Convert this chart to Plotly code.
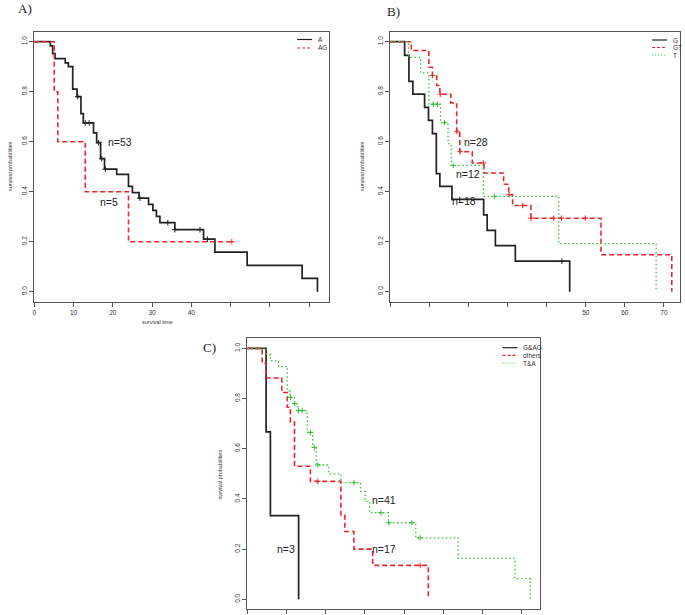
import numpy as np
import plotly.graph_objects as go

W, H = 685, 615

# ---------------- data ----------------
# panel A
a_t = [4.1, 4.7, 5.3, 7.9, 8.7, 9.8, 10.9, 11.9, 12.5, 15.1, 15.9, 16.9, 17.9, 21.0,
       24.0, 25.0, 26.7, 29.1, 30.2, 31.1, 32.0, 35.8, 43.1, 46.0, 54.2, 68.2, 72.1]
a_s = [0.983, 0.952, 0.932, 0.915, 0.900, 0.810, 0.780, 0.712, 0.675, 0.635, 0.596, 0.532,
       0.490, 0.469, 0.421, 0.396, 0.374, 0.349, 0.325, 0.301, 0.276, 0.248, 0.210, 0.158,
       0.105, 0.053, 0.0]
a_cens = [11.1, 13.0, 14.0, 16.4, 17.2, 18.1, 26.9, 34.0, 35.8, 42.2, 44.1]
ag_t = [5.1, 6.0, 13.0, 24.0, 50.3]
ag_s = [0.8, 0.6, 0.4, 0.2, 0.2]
ag_cens = [50.3]

# panel B
g_t = [3.7, 4.8, 5.8, 8.8, 9.8, 10.8, 11.8, 12.7, 15.8, 23.9, 24.8, 26.9, 32.0, 45.9]
g_s = [0.945, 0.841, 0.790, 0.737, 0.685, 0.632, 0.472, 0.421, 0.369, 0.307, 0.245,
       0.184, 0.122, 0.0]
g_cens = [17.8, 43.9]
gt_t = [5.4, 9.9, 10.8, 11.9, 12.7, 15.5, 17.0, 17.8, 21.0, 24.0, 29.0, 30.3, 31.3,
        36.0, 53.9, 72.0]
gt_s = [0.965, 0.898, 0.865, 0.825, 0.790, 0.755, 0.640, 0.560, 0.515, 0.475, 0.430,
        0.388, 0.345, 0.294, 0.148, 0.0]
gt_cens = [10.8, 12.8, 17.1, 17.9, 23.8, 30.4, 33.9, 36.0, 41.8, 43.8, 49.9]
tb_t = [4.7, 7.8, 9.9, 12.9, 14.8, 15.6, 23.8, 43.1, 68.0]
tb_s = [0.937, 0.875, 0.750, 0.676, 0.592, 0.505, 0.381, 0.192, 0.0]
tb_cens = [11.0, 12.1, 13.9, 16.1, 26.7]

# panel C
gag_t = [4.8, 5.9, 13.1]
gag_s = [0.667, 0.333, 0.0]
oth_t = [3.8, 4.8, 8.8, 10.2, 11.0, 12.05, 16.1, 23.9, 24.9, 27.2, 32.0, 46.2]
oth_s = [0.941, 0.882, 0.824, 0.765, 0.706, 0.530, 0.470, 0.336, 0.270, 0.200, 0.135, 0.0]
oth_cens = [18.0, 44.1]
ta_t = [4.9, 5.9, 8.0, 10.2, 10.9, 12.05, 12.9, 15.3, 16.7, 17.6, 20.8, 23.9, 28.9,
        30.1, 31.2, 36.0, 43.0, 53.8, 68.3, 72.2]
ta_s = [0.975, 0.951, 0.927, 0.830, 0.805, 0.780, 0.752, 0.665, 0.605, 0.535, 0.500,
        0.465, 0.430, 0.390, 0.345, 0.305, 0.245, 0.163, 0.082, 0.0]
ta_cens = [11.0, 12.1, 13.1, 14.0, 16.1, 17.1, 18.0, 27.2, 34.1, 36.1, 42.0, 44.1]

x_ticks = [0, 10, 20, 30, 40, 50, 60, 70]
a_xlabels = ["0", "10", "20", "30", "40", "", "", ""]
b_xlabels = ["", "", "", "", "", "50", "60", "70"]
y_ticks = [0, 0.2, 0.4, 0.6, 0.8, 1.0]
y_labels = ["0.0", "0.2", "0.4", "0.6", "0.8", "1.0"]

BLACK = "#222222"
RED = "#e8262a"
GREEN = "#33c033"
AXC = "#555555"
FONT = "Liberation Sans, Arial, sans-serif"


def px(x):
    return x / W


def py(y):
    return 1 - y / H


fig = go.Figure()


def km(t, s, cens, color, dash, width, xa, ya):
    x = [0] + list(t)
    y = [1.0] + list(s)
    fig.add_trace(go.Scatter(x=x, y=y, mode="lines", xaxis=xa, yaxis=ya,
                             line=dict(color=color, dash=dash, width=width, shape="hv"),
                             hoverinfo="skip", showlegend=False))
    if cens:
        idx = np.searchsorted(t, cens, side="right")
        cy = [y[i] for i in idx]
        fig.add_trace(go.Scatter(x=cens, y=cy, mode="markers", xaxis=xa, yaxis=ya,
                                 marker=dict(symbol="cross-thin", size=4, color=color,
                                             line=dict(color=color, width=1)),
                                 hoverinfo="skip", showlegend=False))


DASH = "5px,3px"
DOT = "1.5px,2.5px"

km(a_t, a_s, a_cens, BLACK, "solid", 1.7, "x", "y")
km(ag_t, ag_s, ag_cens, RED, DASH, 1.6, "x", "y")

km(g_t, g_s, g_cens, BLACK, "solid", 1.7, "x2", "y2")
km(gt_t, gt_s, gt_cens, RED, DASH, 1.6, "x2", "y2")
km(tb_t, tb_s, tb_cens, GREEN, DOT, 1.3, "x2", "y2")

km(gag_t, gag_s, [], BLACK, "solid", 1.7, "x3", "y3")
km(oth_t, oth_s, oth_cens, RED, DASH, 1.6, "x3", "y3")
km(ta_t, ta_s, ta_cens, GREEN, DOT, 1.3, "x3", "y3")

axis_common = dict(showline=True, mirror=True, linecolor=AXC, linewidth=1,
                   ticks="outside", ticklen=4, tickcolor=AXC, tickwidth=1,
                   showgrid=False, zeroline=False,
                   tickfont=dict(family=FONT, size=6.5, color="#333333"))

yax = dict(axis_common, range=[-0.04, 1.04], tickvals=y_ticks, ticktext=y_labels,
           tickangle=-90)

fig.update_layout(
    width=W, height=H, margin=dict(l=0, r=0, t=0, b=0),
    paper_bgcolor="white", plot_bgcolor="white", showlegend=False,
    xaxis=dict(axis_common, domain=[px(32.3), px(328)], range=[0, 75.05],
               tickvals=x_ticks, ticktext=a_xlabels, anchor="y"),
    yaxis=dict(yax, domain=[py(301.7), py(31.7)], anchor="x"),
    xaxis2=dict(axis_common, domain=[px(389.3), px(680)], range=[0, 74.1],
                tickvals=x_ticks, ticktext=b_xlabels, anchor="y2"),
    yaxis2=dict(yax, domain=[py(301.7), py(31.7)], anchor="x2"),
    xaxis3=dict(axis_common, domain=[px(246), px(540)], range=[0, 74.8],
                tickvals=x_ticks, showticklabels=False, anchor="y3"),
    yaxis3=dict(yax, domain=[py(609.3), py(338.3)], anchor="x3"),
)

ann = []


def text(x, y, s, size, rot=0, family=FONT, anchor="center", color="#222222"):
    ann.append(dict(x=px(x), y=py(y), xref="paper", yref="paper", text=s,
                    showarrow=False, textangle=rot, xanchor=anchor, yanchor="middle",
                    font=dict(family=family, size=size, color=color)))


SERIF = "Liberation Serif, Times New Roman, serif"
text(23, 8, "A)", 13, family=SERIF)
text(393, 11, "B)", 13, family=SERIF)
text(208, 348, "C)", 13, family=SERIF)

text(8, 166, "survival probabilities", 5.5, rot=-90, color="#333333")
text(361, 166, "survival probabilities", 5.5, rot=-90, color="#333333")
text(219, 474, "survival probabilities", 5.5, rot=-90, color="#333333")
text(156, 322, "survival time", 5.5, color="#333333")

text(118, 142, "n=53", 10.5)
text(107, 202, "n=5", 10.5)
text(475, 142, "n=28", 10.5)
text(467, 174, "n=12", 10.5)
text(463, 201, "n=18", 10.5)
text(383, 500, "n=41", 10.5)
text(383, 549, "n=17", 10.5)
text(285, 549, "n=3", 10.5)

# legends
shapes = []


def leg(x0, y, label, color, dash, width):
    shapes.append(dict(type="line", xref="paper", yref="paper", x0=px(x0), x1=px(x0 + 15),
                       y0=py(y), y1=py(y), line=dict(color=color, dash=dash, width=width)))
    text(x0 + 19, y, label, 6.5, anchor="left", color="#333333")


leg(296, 39.5, "A", BLACK, "solid", 1.2)
leg(296, 48, "AG", RED, "3px,2px", 1.2)
leg(652, 40, "G", BLACK, "solid", 1.2)
leg(652, 47.5, "GT", RED, "3px,2px", 1.2)
leg(652, 55, "T", GREEN, "1px,2px", 1.2)
leg(502, 347.7, "G&AG", BLACK, "solid", 1.2)
leg(502, 355.3, "others", RED, "3px,2px", 1.2)
leg(502, 363, "T&A", GREEN, "1px,2px", 1.2)

fig.update_layout(annotations=ann, shapes=shapes)

fig.write_html("out.html", config={"displayModeBar": False},
               post_script="document.body.style.margin='0';")
